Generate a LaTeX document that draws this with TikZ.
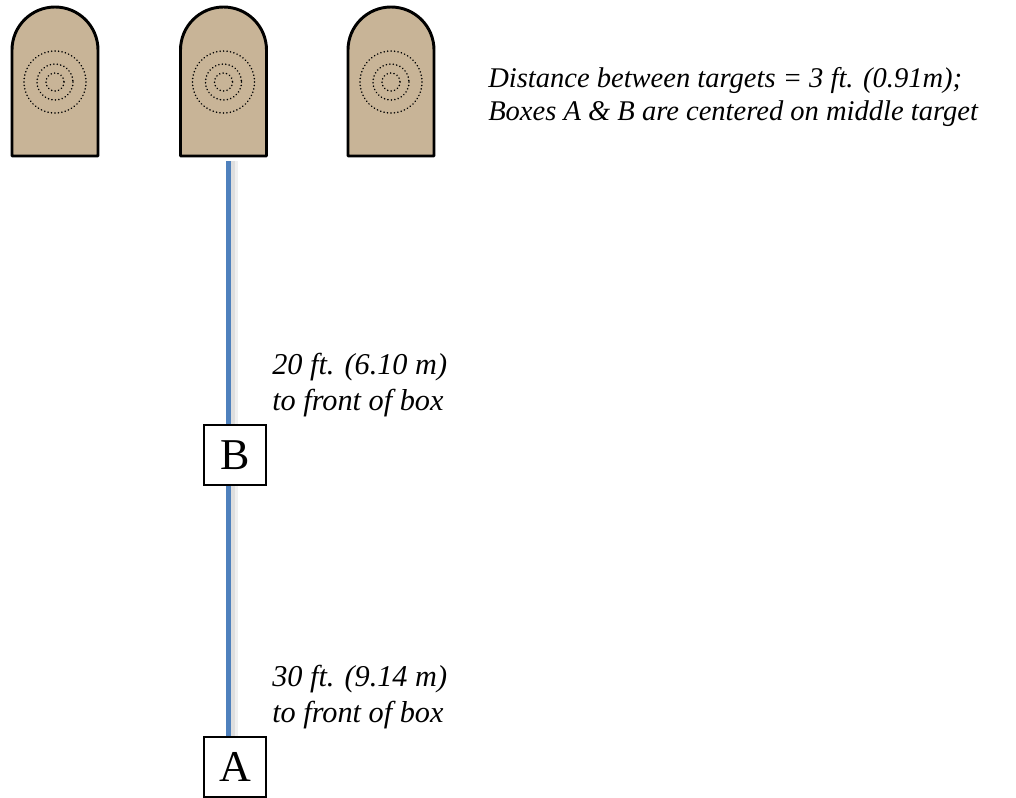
\documentclass[tikz,border=0pt]{standalone}
\usepackage{fontspec}
\setmainfont{Liberation Serif}
\definecolor{tan}{RGB}{200,180,151}
\definecolor{lineblue}{RGB}{79,129,189}
\begin{document}
\begin{tikzpicture}[x=0.75pt,y=-0.75pt,
  target/.style={draw=black,line width=2.2pt,fill=tan,line join=round},
  ring/.style={draw=black,line width=1.3pt,dash pattern=on 0.01pt off 2.6pt,line cap=round},
  box/.style={draw=black,line width=1.1pt,fill=white,minimum width=46.5pt,minimum height=45pt,inner sep=0pt,font=\fontsize{33}{36}\selectfont},
  lbl/.style={font=\fontsize{22.7}{27}\selectfont\itshape,align=left,inner sep=0pt,anchor=base west},
  note/.style={font=\fontsize{21.4}{24.75}\selectfont\itshape,align=left,inner sep=0pt,anchor=base west}]
\useasboundingbox (0,0) rectangle (1016,797);
\foreach \cx in {55,223.5,391}{
  \draw[target] (\cx-43,156) -- (\cx-43,50) arc[start angle=180,end angle=360,radius=43] -- (\cx+43,156) -- cycle;
  \draw[ring] (\cx,82) circle[radius=31];
  \draw[ring] (\cx,82) circle[radius=18];
  \draw[ring] (\cx,82) circle[radius=9];
}
\node[box] (B) at (235,455) {B};
\node[box] (A) at (235,767) {A};
\coordinate (top) at (228.5,161);
\coordinate (topS) at (233,161);
\coordinate (topT) at (235,161);
\draw[line width=5pt,black!6] (topT) -- (topT |- A.north);
\draw[line width=3pt,black!13] (topS) -- (topS |- A.north);
\draw[line width=3.5pt,lineblue] (top) -- (top |- A.north);
\node[box] at (B) {B};
\node[box] at (A) {A};
\node[lbl] (lb) at (272,410) {20 ft. (6.10 m)\\to front of box};
\node[lbl] (la) at (272,722) {30 ft. (9.14 m)\\to front of box};
\node[note] (n) at (488,120) {Distance between targets = 3 ft. (0.91m);\\Boxes A \& B are centered on middle target};
\end{tikzpicture}
\end{document}
